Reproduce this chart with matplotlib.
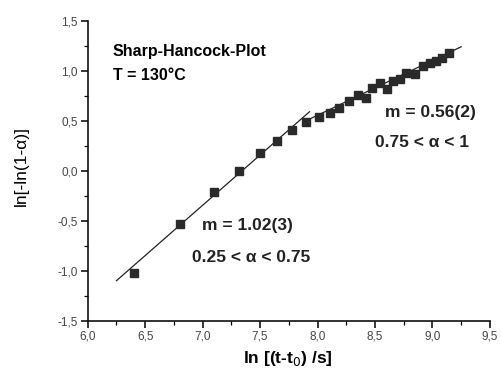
import matplotlib
matplotlib.use("Agg")
import matplotlib.pyplot as plt
from matplotlib.ticker import MultipleLocator, FuncFormatter

plt.rcParams['font.family'] = ['Liberation Sans', 'DejaVu Sans']

# lower region (0.25 < alpha < 0.75)
x_low = [6.40, 6.80, 7.10, 7.32, 7.50, 7.65, 7.78]
y_low = [-1.02, -0.53, -0.21, 0.00, 0.18, 0.30, 0.41]
# upper region (0.75 < alpha < 1)
x_high = [7.90, 8.01, 8.11, 8.19, 8.27, 8.35, 8.42, 8.47, 8.54, 8.60,
          8.66, 8.72, 8.77, 8.85, 8.92, 8.98, 9.03, 9.08, 9.14]
y_high = [0.49, 0.54, 0.58, 0.625, 0.70, 0.755, 0.73, 0.83, 0.88, 0.82,
          0.90, 0.915, 0.98, 0.965, 1.05, 1.08, 1.10, 1.13, 1.18]
# fit lines (end points)
fit1_x = [6.25, 7.93]
fit1_y = [-1.10, 0.59]
fit2_x = [7.90, 9.25]
fit2_y = [0.50, 1.24]

fig = plt.figure(figsize=(5.02, 3.74), dpi=100)
ax = fig.add_axes([0.1747, 0.1425, 0.8013, 0.802])

ax.plot(fit1_x, fit1_y, color='#222222', lw=0.9)
ax.plot(fit2_x, fit2_y, color='#222222', lw=0.9)
ax.plot(x_low, y_low, 's', color='#2a2a2a', ms=5.5, mec='#2a2a2a')
ax.plot(x_high, y_high, 's', color='#2a2a2a', ms=5.5, mec='#2a2a2a')

ax.set_xlim(6.0, 9.5)
ax.set_ylim(-1.5, 1.5)
ax.xaxis.set_major_locator(MultipleLocator(0.5))
ax.xaxis.set_minor_locator(MultipleLocator(0.25))
ax.yaxis.set_major_locator(MultipleLocator(0.5))
ax.yaxis.set_minor_locator(MultipleLocator(0.25))
fmt = FuncFormatter(lambda v, p: ('%.1f' % v).replace('.', ','))
ax.xaxis.set_major_formatter(fmt)
ax.yaxis.set_major_formatter(fmt)

for s in ['top', 'right']:
    ax.spines[s].set_visible(False)
for s in ['left', 'bottom']:
    ax.spines[s].set_linewidth(1.2)
    ax.spines[s].set_color('#111111')
ax.tick_params(which='major', direction='out', length=5, width=1.1,
               labelsize=8.5, labelcolor='#444444', pad=2)
ax.tick_params(which='minor', direction='out', length=3, width=0.9)

ax.set_xlabel('ln [(t-t$_0$) /s]', fontsize=12.5, fontweight='bold')
ax.xaxis.set_label_coords(0.498, -0.095)
ax.set_ylabel('ln[-ln(1-\u03b1)]', fontsize=12.5)
ax.yaxis.set_label_coords(-0.145, 0.516)

ax.text(6.22, 1.144, 'Sharp-Hancock-Plot', fontsize=11.5, fontweight='bold')
ax.text(6.22, 0.904, 'T = 130\u00b0C', fontsize=11.5, fontweight='bold')
ax.text(8.585, 0.535, 'm = 0.56(2)', fontsize=12.5, fontweight='bold', color='#222222')
ax.text(8.50, 0.236, '0.75 < \u03b1 < 1', fontsize=12.5, fontweight='bold', color='#222222')
ax.text(6.994, -0.59, 'm = 1.02(3)', fontsize=12.5, fontweight='bold', color='#222222')
ax.text(6.907, -0.91, '0.25 < \u03b1 < 0.75', fontsize=12.5, fontweight='bold', color='#222222')

fig.savefig('out.png', dpi=100)
